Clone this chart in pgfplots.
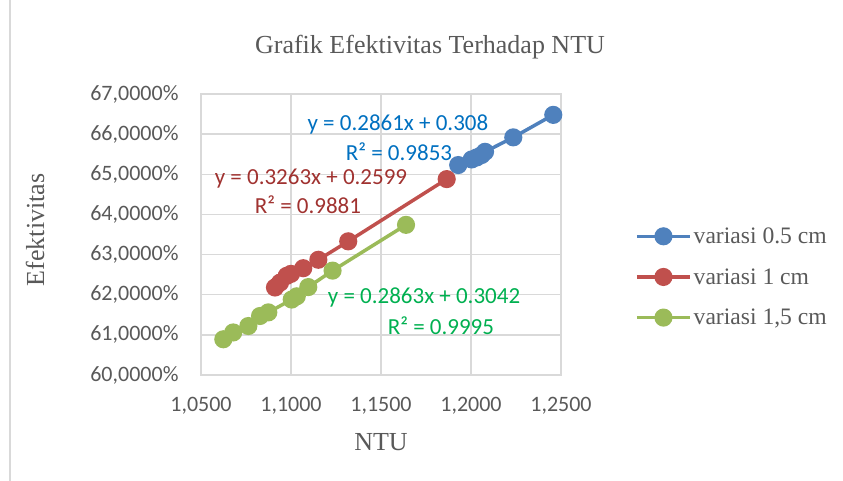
\documentclass[border=0pt]{standalone}
\usepackage{pgfplots}
\pgfplotsset{compat=1.18}
\usepackage{fontspec}
\setmainfont{Liberation Serif}
\newfontfamily\calibri{Carlito}
\definecolor{sblue}{RGB}{79,129,189}
\definecolor{sred}{RGB}{192,80,77}
\definecolor{sgreen}{RGB}{155,187,89}
\definecolor{tblue}{RGB}{0,112,192}
\definecolor{tred}{RGB}{160,50,48}
\definecolor{tgreen}{RGB}{0,176,80}
\definecolor{gridc}{RGB}{217,217,217}
\definecolor{txt}{RGB}{89,89,89}
\begin{document}
\begin{tikzpicture}
\begin{axis}[
  at={(0pt,0pt)}, anchor=south west,
  width=360pt, height=281pt, scale only axis,
  xmin=1.05, xmax=1.25, ymin=60, ymax=67,
  xtick={1.05,1.10,1.15,1.20,1.25},
  ytick={60,61,...,67},
  grid=major,
  major grid style={gridc,line width=1.3pt},
  axis line style={gridc,line width=1.3pt},
  tick style={draw=none},
  /pgf/number format/assume math mode=true,
  tick label style={font=\calibri\fontsize{22}{26}\selectfont,text=txt},
  xticklabel={\pgfmathprintnumber[fixed,fixed zerofill,precision=4,use comma]{\tick}},
  yticklabel={\pgfmathprintnumber[fixed,fixed zerofill,precision=4,use comma]{\tick}\%},
  xticklabel style={yshift=-19pt},
  yticklabel style={xshift=-19pt},
  legend style={at={(1.2056,0.349)},anchor=west,draw=none,fill=none,inner sep=0pt,
    font=\fontsize{23.6}{28}\selectfont,text=txt,row sep=19.5pt,
    /tikz/every even column/.append style={column sep=0pt}},
  legend cell align=left,
  legend image code/.code={\draw[mark repeat=2,mark phase=2,#1] plot coordinates {(0pt,0pt) (26.5pt,0pt) (53pt,0pt)};},
  every axis plot/.append style={line width=3.5pt, mark=*, mark size=7.3pt, mark options={solid}},
  clip=false,
]
\addplot[color=sblue] coordinates {
 (1.1929,65.23) (1.2004,65.37) (1.2032,65.42) (1.2059,65.48) (1.2078,65.56) (1.2235,65.92) (1.2457,66.48)};
\addlegendentry{variasi 0.5 cm}
\addplot[color=sred] coordinates {
 (1.0911,62.18) (1.0939,62.30) (1.0976,62.47) (1.1000,62.52) (1.1068,62.66) (1.1152,62.87) (1.1318,63.33) (1.1865,64.88)};
\addlegendentry{variasi 1 cm}
\addplot[color=sgreen] coordinates {
 (1.0624,60.89) (1.0679,61.06) (1.0763,61.22) (1.0828,61.47) (1.0874,61.56) (1.1004,61.88) (1.1032,61.96) (1.1096,62.19) (1.1231,62.60) (1.1639,63.74)};
\addlegendentry{variasi 1,5 cm}
\node[font=\calibri\fontsize{23}{27}\selectfont,text=tblue] at (axis cs:1.1594,66.25) {y = 0.2861x + 0.308};
\node[font=\calibri\fontsize{23}{27}\selectfont,text=tblue] at (axis cs:1.1600,65.55) {R² = 0.9853};
\node[font=\calibri\fontsize{23}{27}\selectfont,text=tred] at (axis cs:1.1111,64.90) {y = 0.3263x + 0.2599};
\node[font=\calibri\fontsize{23}{27}\selectfont,text=tred] at (axis cs:1.1094,64.25) {R² = 0.9881};
\node[font=\calibri\fontsize{23}{27}\selectfont,text=tgreen] at (axis cs:1.1739,61.93) {y = 0.2863x + 0.3042};
\node[font=\calibri\fontsize{23}{27}\selectfont,text=tgreen] at (axis cs:1.1833,61.23) {R² = 0.9995};
\end{axis}
\draw[gridc,line width=1.5pt] (-191pt,-106pt) -- (-191pt,375pt);
\node[font=\fontsize{26}{30}\selectfont,text=txt] at (229pt,328pt) {Grafik Efektivitas Terhadap NTU};
\node[font=\fontsize{26}{30}\selectfont,text=txt,rotate=90] at (-166pt,145pt) {Efektivitas};
\node[font=\fontsize{26}{30}\selectfont,text=txt] at (180pt,-67pt) {NTU};
\pgfresetboundingbox
\useasboundingbox (-201pt,-106pt) rectangle (642pt,375pt);
\end{tikzpicture}
\end{document}
